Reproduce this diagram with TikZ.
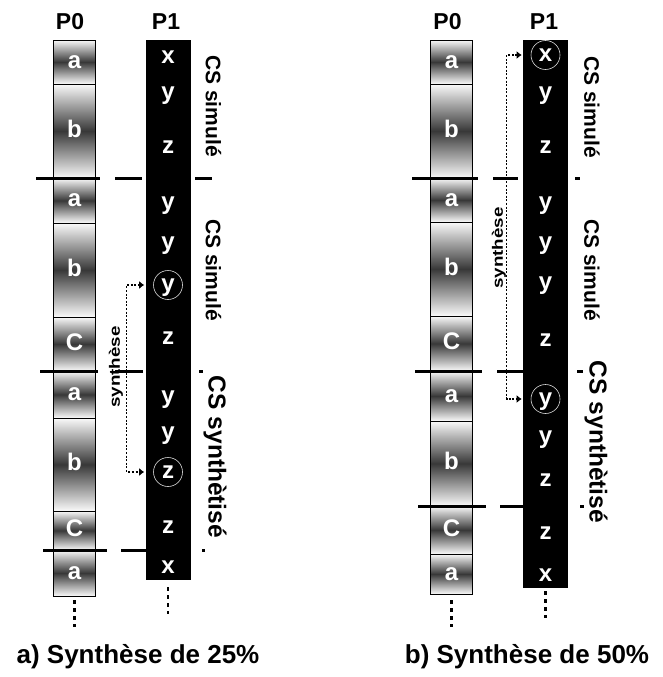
\documentclass[tikz,border=0pt]{standalone}
\usepackage{fontspec}
\setmainfont{Liberation Sans}
\usetikzlibrary{arrows.meta}
\begin{document}
\begin{tikzpicture}[x=1pt,y=-1pt,
  cellbox/.style={draw=black, line width=0.8pt, top color=gray!4, bottom color=gray!4, middle color=black!78,
    minimum width=42pt, inner sep=0pt, text=white, font=\bfseries\fontsize{24}{24}\selectfont,
    text height=12.4pt, text depth=0pt},
  colbox/.style={fill=black, draw=black, minimum width=44pt, inner sep=0pt},
  letter/.style={text=white, font=\bfseries\fontsize{24}{24}\selectfont, inner sep=0pt,
    text height=12.4pt, text depth=0pt},
  circled/.style={letter, circle, draw=white!85!black, line width=0.6pt, minimum size=29pt},
  head/.style={font=\bfseries\fontsize{23}{23}\selectfont},
  cslabel/.style={rotate=-90, font=\bfseries\fontsize{21}{21}\selectfont},
  cslabelbig/.style={rotate=-90, font=\bfseries\fontsize{24.5}{24.5}\selectfont},
  synlabel/.style={rotate=90, font=\bfseries\fontsize{15}{15}\selectfont},
  sepline/.style={line width=3pt},
  syn/.style={line width=1.3pt, dash pattern=on 2pt off 1.6pt,
    {Latex[length=5pt,width=8pt]}-{Latex[length=5pt,width=8pt]}, shorten <=9pt, shorten >=9pt},
  vdots/.style={line width=2.8pt, dash pattern=on 3.5pt off 4.5pt},
  caption/.style={font=\bfseries\fontsize{26}{26}\selectfont, anchor=base}
]
\useasboundingbox (0,0) rectangle (662,677);

% ================= panel a =================
\node[head] (aH0) at (70,21.5) {P0};
\node[head] (aH1) at (166,21.5) {P1};

\foreach \t/\b/\l [count=\i] in {40/84/a,84/178/b,178/223/a,223/317/b,317/371/C,371/418/a,418/511/b,511/550/C,550/596/a}
  \node[cellbox, minimum height={(\b-\t)*1pt}] (aP0c\i) at (74.5,{(\t+\b)/2}) {\l};

\node[colbox, minimum height=539pt] (aP1) at (168,309.5) {};
\foreach \y/\l [count=\i] in {57/x,93/y,147/z,203/y,243/y,338/z,397/y,433/y,527/z,567/x}
  \node[letter] (aL\i) at (168,\y) {\l};
\node[circled] (aC1) at (168,285) {y};
\node[circled] (aC2) at (168,472) {z};

% separators
\draw[sepline] (36,178) -- (100,178) (115,178) -- (142,178) (195,178) -- (212,178);
\draw[sepline] (40,371) -- (98,371) (115,371) -- (143,371) (199,371) -- (203,371);
\draw[sepline] (43,550) -- (107,550) (121,550) -- (146,550) (202,550) -- (205,550);

% synthese connector
\draw[syn] (aC1.west) -- ++(-26.5,0) |- (aC2.west);
\node[synlabel] (aSyn) at (116,367) {\scalebox{1.25}[1]{synthèse}};

% side labels
\node[cslabel] (aS1) at (213.5,106) {CS simulé};
\node[cslabel] (aS2) at (213.5,270) {CS simulé};
\node[cslabelbig] (aS3) at (215,457) {CS synthètisé};

% continuation dots
\draw[vdots] ([yshift=-4pt]aP0c9.south) -- ([yshift=-31pt]aP0c9.south);
\draw[vdots] ([yshift=-8pt]aP1.south) -- ([yshift=-35pt]aP1.south);

\node[caption] (aCap) at (138,663) {a) Synthèse de 25\%};

% ================= panel b =================
\node[head] (bH0) at (447.5,21.5) {P0};
\node[head] (bH1) at (544,21.5) {P1};

\foreach \t/\b/\l [count=\i] in {40/84/a,84/178/b,178/222/a,222/316/b,316/371/C,371/421/a,421/506/b,506/554/C,554/594/a}
  \node[cellbox, minimum height={(\b-\t)*1pt}] (bP0c\i) at (451.5,{(\t+\b)/2}) {\l};

\node[colbox, minimum height=547pt] (bP1) at (545.5,313.5) {};
\foreach \y/\l [count=\i] in {93/y,147/z,203/y,243/y,283/y,340/z,437/y,480/z,533/z,575/x}
  \node[letter] (bL\i) at (545.5,\y) {\l};
\node[circled] (bC1) at (545.5,55) {x};
\node[circled] (bC2) at (545.5,399) {y};

% separators
\draw[sepline] (412,178) -- (478,178) (493,178) -- (518,178) (575,178) -- (580,178);
\draw[sepline] (415,371) -- (482,371) (497,371) -- (523,371) (577,371) -- (583,371);
\draw[sepline] (418,506) -- (486,506) (500,506) -- (525,506) (580,506) -- (584,506);

% synthese connector
\draw[syn] (bC1.west) -- ++(-24,0) |- (bC2.west);
\node[synlabel] (bSyn) at (499,248) {\scalebox{1.25}[1]{synthèse}};

% side labels
\node[cslabel] (bS1) at (592,107) {CS simulé};
\node[cslabel] (bS2) at (592,270) {CS simulé};
\node[cslabelbig] (bS3) at (596,442) {CS synthètisé};

% continuation dots
\draw[vdots] ([yshift=-6pt]bP0c9.south) -- ([yshift=-33pt]bP0c9.south);
\draw[vdots] ([yshift=-4pt]bP1.south) -- ([yshift=-31pt]bP1.south);

\node[caption] (bCap) at (527,663) {b) Synthèse de 50\%};
\end{tikzpicture}
\end{document}
